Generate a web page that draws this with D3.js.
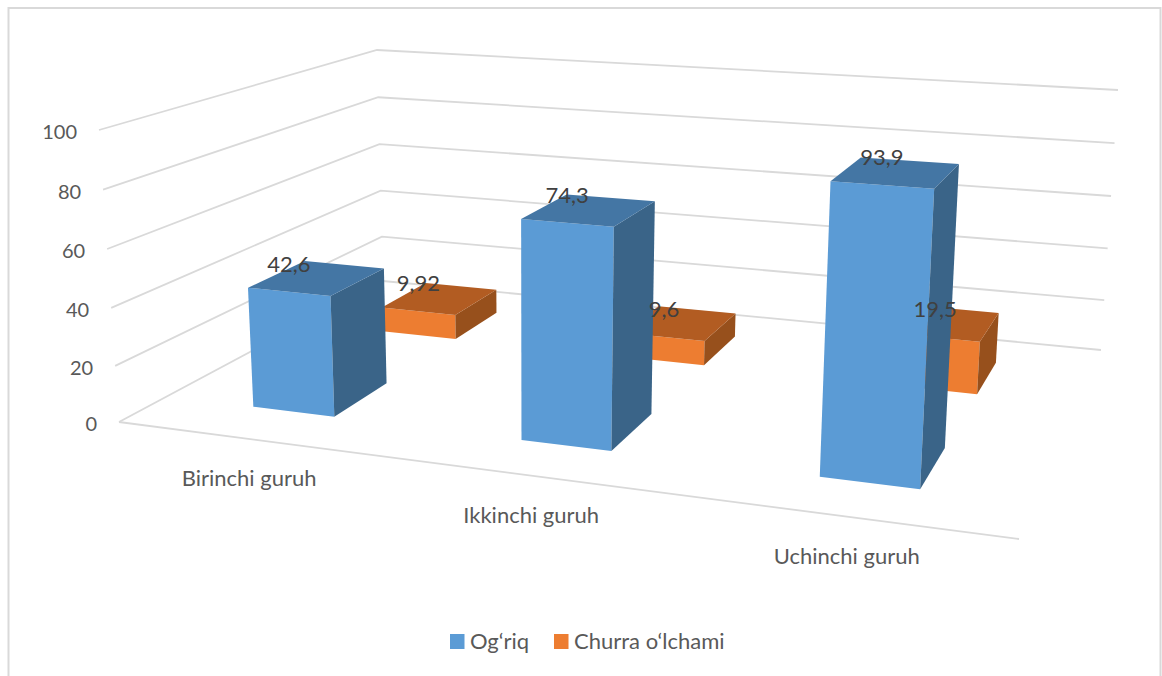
<!DOCTYPE html>
<meta charset="utf-8">
<html>
<head>
<script src="https://d3js.org/d3.v7.min.js"></script>
<style>
  body { margin: 0; background: #fff; }
  svg { display: block; }
  text { font-family: Lato, sans-serif; }
  .tick-label { fill: #595959; font-size: 20px; }
  .cat-label, .legend-label { fill: #595959; font-size: 22px; }
  .value-label { fill: #404040; font-size: 22px; text-anchor: middle; }
</style>
</head>
<body>
<svg id="chart" width="1162" height="676"></svg>
<script>
// data
var categories = ["Birinchi guruh", "Ikkinchi guruh", "Uchinchi guruh"];
var seriesNames = ["Og‘riq", "Churra o‘lchami"];
var ogriq = [42.6, 74.3, 93.9];
var churra = [9.92, 9.6, 19.5];
var yTicks = [0, 20, 40, 60, 80, 100];

// front, top and side shades per series
var frontColors = ["#5b9bd5", "#ed7d31"];
var topColors = ["#4476a4", "#b25c22"];
var sideColors = ["#3a6488", "#97501c"];

var svg = d3.select("#chart");

// chart border, open at the bottom like the picture
svg.append("path")
  .attr("d", "M8.5,676V8H1160.5V676")
  .attr("fill", "none").attr("stroke", "#d9d9d9").attr("stroke-width", 2);

// the box: floor and ceiling quads, order front-left, front-right, back-right, back-left
var floorQuad = [[119, 422], [1019, 539], [1101, 350], [383, 281]];
var ceilQuad = [[99, 130], [1038, 197], [1118, 90], [377, 50]];

// value to height in the box, very slightly curved for the perspective
var y = d3.scalePow().exponent(1.025).domain([0, 100]).range([0, 1]);

// category axis runs along u, series axis runs along v (depth). gaps 219% and 150%
var u = d3.scaleBand().domain(categories).range([0, 1]).paddingInner(0.687).paddingOuter(0.3435);
var v = d3.scaleBand().domain(seriesNames).range([0, 1]).paddingInner(0.6).paddingOuter(0.3);

// unit square to quad
function squareToQuad(q) {
  var x0 = q[0][0], y0 = q[0][1], x1 = q[1][0], y1 = q[1][1];
  var x2 = q[2][0], y2 = q[2][1], x3 = q[3][0], y3 = q[3][1];
  var dx1 = x1 - x2, dx2 = x3 - x2, sx = x0 - x1 + x2 - x3;
  var dy1 = y1 - y2, dy2 = y3 - y2, sy = y0 - y1 + y2 - y3;
  var det = dx1 * dy2 - dx2 * dy1;
  var g = (sx * dy2 - dx2 * sy) / det;
  var h = (dx1 * sy - sx * dy1) / det;
  return function (a, b) {
    var w = g * a + h * b + 1;
    return [
      ((x1 - x0 + g * x1) * a + (x3 - x0 + h * x3) * b + x0) / w,
      ((y1 - y0 + g * y1) * a + (y3 - y0 + h * y3) * b + y0) / w
    ];
  };
}

// a point in the box: a along categories, b in depth, val on the value axis
function project(a, b, val) {
  var t = y(val);
  var quad = floorQuad.map(function (p, i) { return d3.interpolate(p, ceilQuad[i])(t); });
  return squareToQuad(quad)(a, b);
}

var line = d3.line();

// gridlines
var grid = svg.append("g").attr("fill", "none").attr("stroke", "#d9d9d9").attr("stroke-width", 1.8);
grid.selectAll("path").data(yTicks).enter().append("path")
  .attr("d", function (d) { return line([project(0, 0, d), project(0, 1, d), project(1, 1, d)]); });
grid.append("path").attr("d", line([project(0, 0, 0), project(1, 0, 0)]));

// value axis labels
svg.selectAll(".tick-label").data(yTicks).enter().append("text")
  .attr("class", "tick-label")
  .attr("text-anchor", "end")
  .attr("x", function (d) { return project(0, 0, d)[0] - 22; })
  .attr("y", function (d) { return project(0, 0, d)[1] + 9; })
  .text(function (d) { return d; });

// category labels, under the front edge
svg.selectAll(".cat-label").data(categories).enter().append("text")
  .attr("class", "cat-label")
  .attr("text-anchor", "middle")
  .attr("x", function (d) { return project(u(d) + u.bandwidth() / 2, 0, 0)[0]; })
  .attr("y", function (d) { return project(u(d) + u.bandwidth() / 2, 0, 0)[1] + 47; })
  .text(function (d) { return d; });

// one record per bar, back series first so the front one covers it
var bars = [];
[churra, ogriq].forEach(function (values) {
  var s = values === ogriq ? 0 : 1;
  categories.forEach(function (c, i) {
    bars.push({ cat: c, s: s, value: values[i] });
  });
});

function face(d, pts) {
  return line(pts.map(function (p) { return project(p[0], p[1], p[2]); })) + "Z";
}

var barG = svg.selectAll(".bar").data(bars).enter().append("g").attr("class", "bar");
barG.each(function (d) {
  var g = d3.select(this);
  var a0 = u(d.cat), a1 = a0 + u.bandwidth();
  var b0 = v(seriesNames[d.s]), b1 = b0 + v.bandwidth();
  var val = d.value;
  g.append("path").attr("fill", frontColors[d.s])
    .attr("d", face(d, [[a0, b0, 0], [a1, b0, 0], [a1, b0, val], [a0, b0, val]]));
  g.append("path").attr("fill", sideColors[d.s])
    .attr("d", face(d, [[a1, b0, 0], [a1, b1, 0], [a1, b1, val], [a1, b0, val]]));
  g.append("path").attr("fill", topColors[d.s])
    .attr("d", face(d, [[a0, b0, val], [a1, b0, val], [a1, b1, val], [a0, b1, val]]));
});

// value labels sit above the middle of the top front edge
svg.selectAll(".value-label").data(bars).enter().append("text")
  .attr("class", "value-label")
  .attr("x", function (d) { return project(u(d.cat) + u.bandwidth() / 2, v(seriesNames[d.s]), d.value)[0]; })
  .attr("y", function (d) { return project(u(d.cat) + u.bandwidth() / 2, v(seriesNames[d.s]), d.value)[1] - 20; })
  .text(function (d) { return String(d.value).replace(".", ","); });

// legend
var legendX = d3.scaleOrdinal().domain(seriesNames).range([450, 554]);
var legend = svg.selectAll(".legend").data(seriesNames).enter().append("g").attr("class", "legend")
  .attr("transform", function (d) { return "translate(" + legendX(d) + ",634)"; });
legend.append("rect").attr("width", 14.5).attr("height", 15)
  .attr("fill", function (d, i) { return frontColors[i]; });
legend.append("text").attr("class", "legend-label")
  .attr("x", 20).attr("y", 15)
  .text(function (d) { return d; });
</script>
</body>
</html>
